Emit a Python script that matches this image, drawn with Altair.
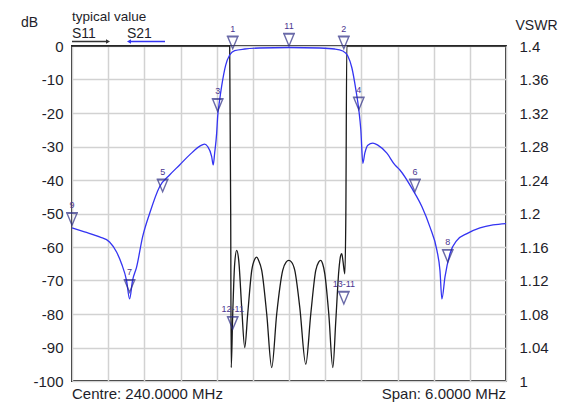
import altair as alt
import pandas as pd

# ---- data ----
s21_freq = [237.000, 237.173, 237.381, 237.519, 237.616, 237.685, 237.754, 237.796, 237.837,
            237.893, 237.976, 238.073, 238.211, 238.349, 238.488, 238.626, 238.792, 238.834,
            238.875, 238.931, 238.952, 238.972, 239.000, 239.014, 239.042, 239.069, 239.125,
            239.180, 239.249, 239.388, 239.595, 239.997, 240.426, 240.633, 240.744, 240.813,
            240.869, 240.924, 240.965, 240.993, 241.021, 241.048, 241.090, 241.159, 241.228,
            241.353, 241.464, 241.533, 241.713, 241.838, 241.948, 242.045, 242.087, 242.114,
            242.156, 242.225, 242.322, 242.460, 242.640, 242.820, 243.000]
s21_db = [-54.3, -55.5, -57.0, -58.5, -61.5, -65.0, -70.0, -75.5, -70.0,
          -66.0, -57.0, -50.0, -42.0, -38.5, -35.5, -32.5, -29.6, -29.3,
          -30.0, -33.0, -35.5, -32.0, -26.0, -21.0, -16.0, -12.0, -5.7,
          -2.7, -1.4, -0.9, -0.6, -0.45, -0.6, -0.9, -1.5, -3.0,
          -6.5, -13.0, -19.0, -25.0, -35.0, -32.0, -29.6, -29.0, -29.6,
          -32.0, -35.5, -37.0, -43.0, -48.0, -54.0, -61.0, -67.0, -75.5,
          -69.0, -62.0, -58.0, -56.0, -54.3, -53.4, -53.0]

s11_freq = [237.000, 239.180, 239.194, 239.201, 239.222, 239.249, 239.277, 239.305, 239.346,
            239.388, 239.429, 239.485, 239.530, 239.554, 239.580, 239.623, 239.692, 239.761,
            239.830, 239.913, 239.960, 239.997, 240.035, 240.080, 240.149, 240.232, 240.301,
            240.370, 240.410, 240.439, 240.465, 240.495, 240.550, 240.606, 240.647, 240.689,
            240.715, 240.730, 240.745, 240.772, 240.786, 240.799, 243.000]
s11_db = [0.0, 0.0, -50.0, -96.0, -80.0, -65.0, -61.0, -64.0, -78.0,
          -90.0, -80.0, -67.0, -63.5, -63.0, -64.0, -67.0, -80.0, -96.0,
          -80.0, -67.0, -64.5, -64.0, -64.5, -67.0, -78.0, -95.0, -80.0,
          -67.0, -64.5, -64.0, -65.0, -68.0, -80.0, -96.0, -82.0, -67.0,
          -62.5, -62.0, -64.0, -68.0, -50.0, 0.0, 0.0]

mk_label = ["1", "11", "2", "3", "4", "5", "6", "9", "7", "8", "12-11", "13-11"]
mk_freq = [239.222, 240.000, 240.758, 239.014, 240.965, 238.253, 241.741, 237.000,
           237.796, 242.195, 239.222, 240.758]
mk_db = [-0.8, 0.0, -0.8, -19.5, -19.0, -43.5, -43.5, -53.5, -73.5, -64.5, -84.5, -77.0]

freq_ticks = [237.0, 237.5, 238.0, 238.5, 239.0, 239.5, 240.0, 240.5, 241.0, 241.5, 242.0, 242.5, 243.0]
db_ticks = [-100, -90, -80, -70, -60, -50, -40, -30, -20, -10, 0]
vswr_ticks = [1, 1.04, 1.08, 1.12, 1.16, 1.2, 1.24, 1.28, 1.32, 1.36, 1.4]

title_text = ["typical value"]
s11_text = ["S11"]
s21_text = ["S21"]
centre_text = ["Centre: 240.0000 MHz"]
span_text = ["Span: 6.0000 MHz"]

# ---- styling ----
FONT = "Liberation Sans"
TXT = "#1e1e2a"
GRID = "#d2d2d2"
BLUE = "#3434f2"
MK = "#2c2c84"
MKTXT = "#4a3590"

x_scale = alt.Scale(domain=[237, 243], nice=False, zero=False)
y_scale = alt.Scale(domain=[-100, 0], nice=False, zero=False)

x_axis = alt.Axis(values=freq_ticks, grid=True, labels=False, ticks=False, domain=False,
                  title=None, gridColor=GRID, gridWidth=1.5)
y_axis = alt.Axis(values=db_ticks, grid=True, ticks=False, domain=False,
                  labelExpr="datum.value < 0 ? '-' + abs(datum.value) : '' + datum.value",
                  labelFont=FONT, labelFontSize=15, labelColor=TXT, labelPadding=9,
                  gridColor=GRID, gridWidth=1.5,
                  title="dB", titleAngle=0, titleX=-43, titleY=-24, titleAlign="center",
                  titleBaseline="middle", titleFont=FONT, titleFontSize=14,
                  titleFontWeight="normal", titleColor=TXT)

X = alt.X("f:Q", scale=x_scale, axis=x_axis)
Y = alt.Y("db:Q", scale=y_scale, axis=y_axis)

df21 = pd.DataFrame({"f": s21_freq, "db": s21_db})
df11 = pd.DataFrame({"f": s11_freq, "db": s11_db})
dfm = pd.DataFrame({"f": mk_freq, "db": mk_db, "lab": mk_label})

s11 = alt.Chart(df11).mark_line(color="#1a1a1a", strokeWidth=1.3,
                                interpolate="monotone").encode(x=X, y=Y, order="f:Q")
s21 = alt.Chart(df21).mark_line(color=BLUE, strokeWidth=1.3,
                                interpolate="monotone").encode(x=X, y=Y)

TRI = "M-0.6,-1.25L0.6,-1.25M-0.5,-1.2L0.5,-1.2L0,0Z"
markers = alt.Chart(dfm).mark_point(shape=TRI, size=400, filled=False, stroke=MK,
                                    strokeWidth=1.4).encode(x=X, y=Y)
mk_text = alt.Chart(dfm).mark_text(dy=-20, font=FONT, fontSize=9, color=MKTXT,
                                   baseline="middle").encode(x=X, y=Y, text="lab:N")

vswr = alt.Chart(pd.DataFrame({"v": vswr_ticks})).mark_point(opacity=0).encode(
    y=alt.Y("v:Q", scale=alt.Scale(domain=[1, 1.4], nice=False, zero=False),
            axis=alt.Axis(orient="right", values=vswr_ticks, format="~g", grid=False,
                          ticks=False, domain=False, labelFont=FONT, labelFontSize=15,
                          labelColor=TXT, labelPadding=13,
                          title="VSWR", titleAngle=0, titleX=9, titleY=-21,
                          titleAlign="left", titleBaseline="middle", titleFont=FONT,
                          titleFontSize=14, titleFontWeight="normal", titleColor=TXT))
)

def txt(values, x, y, align="left", size=15, color=TXT):
    return alt.Chart(pd.DataFrame({"t": values})).mark_text(
        align=align, baseline="middle", font=FONT, fontSize=size, color=color
    ).encode(x=alt.value(x), y=alt.value(y), text="t:N")

t_title = txt(title_text, 0, -29, size=13.5)
t_s11 = txt(s11_text, 0, -12, size=14)
t_s21 = txt(s21_text, 55, -12, size=14)
t_centre = txt(centre_text, 0, 348)
t_span = txt(span_text, 434, 348, align="right")

one = pd.DataFrame({"k": [0]})
arrow11 = alt.Chart(one).mark_rule(color="#333333", strokeWidth=1.3).encode(
    x=alt.value(0), x2=alt.value(36), y=alt.value(-4.5))
head11 = alt.Chart(one).mark_point(shape="triangle-right", filled=True, size=22,
                                   color="#333333", opacity=1).encode(
    x=alt.value(36), y=alt.value(-4.5))
arrow21 = alt.Chart(one).mark_rule(color=BLUE, strokeWidth=1.5).encode(
    x=alt.value(57), x2=alt.value(93), y=alt.value(-4.5))
head21 = alt.Chart(one).mark_point(shape="triangle-left", filled=True, size=22,
                                   color=BLUE, opacity=1).encode(
    x=alt.value(57), y=alt.value(-4.5))

main = alt.layer(s11, s21, markers, mk_text)
chart = alt.layer(
    main, vswr, t_title, t_s11, t_s21, t_centre, t_span, arrow11, head11, arrow21, head21
).resolve_scale(y="independent").properties(
    width=434, height=335,
    autosize=alt.AutoSizeParams(type="none"),
    padding={"left": 64, "top": 38, "right": 59, "bottom": 22},
).configure_view(stroke="#222222", strokeWidth=2)

chart.save("out.html", embed_options={"renderer": "svg", "actions": False})
